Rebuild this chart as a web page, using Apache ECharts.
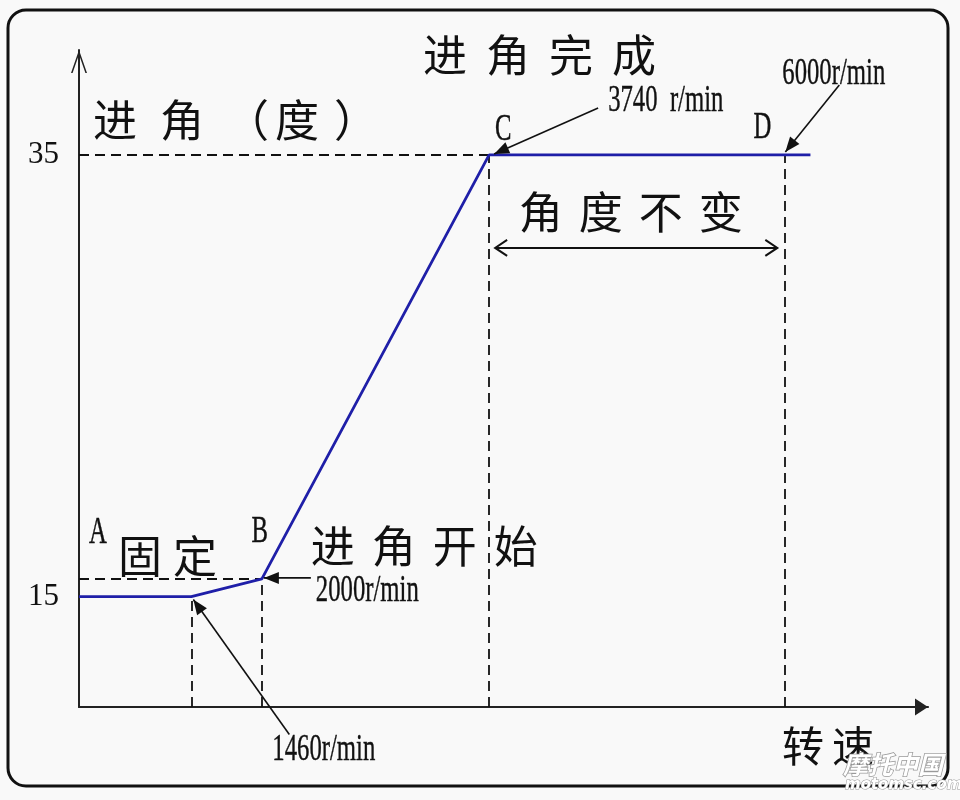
<!DOCTYPE html>
<html>
<head>
<meta charset="utf-8">
<script src="https://cdn.jsdelivr.net/npm/echarts@6/dist/echarts.min.js"></script>
<style>
  html, body { margin: 0; padding: 0; background: #f9f9f9; }
  #chart { width: 960px; height: 800px; }
</style>
</head>
<body>
<div id="chart"></div>
<script>
// 进角特性：转速 (r/min) -> 进角 (度)
var speedRpm = [600, 1460, 2000, 3740, 6000, 6200];
var advanceDeg = [15, 15, 15.8, 35, 35, 35];
var yTickLabels = [15, 35];
var yMin = 10;
var yMax = 39.75;

var cjk = '"Noto Sans CJK SC", sans-serif';
var serif = '"Liberation Serif", serif';
var ink = '#111';

// dashed guides from each key point down to the x axis / across to the y axis
var guides = [];
[1, 2, 3, 4].forEach(function (i) {
    guides.push([{ coord: [speedRpm[i], yMin] }, { coord: [speedRpm[i], advanceDeg[i]] }]);
});
[2, 3].forEach(function (i) {
    guides.push([{ coord: [speedRpm[0], advanceDeg[i]] }, { coord: [speedRpm[i], advanceDeg[i]] }]);
});

var option = {
    backgroundColor: '#f9f9f9',
    animation: false,
    grid: { left: 79, right: 32, top: 50, bottom: 93 },
    xAxis: {
        type: 'value',
        min: speedRpm[0],
        max: 7100,
        axisLine: {
            show: true,
            symbol: ['none', 'triangle'],
            symbolSize: [17, 13],
            symbolOffset: [0, -6.5],
            lineStyle: { color: '#222', width: 2.2 }
        },
        axisTick: { show: false },
        axisLabel: { show: false },
        splitLine: { show: false }
    },
    yAxis: {
        type: 'value',
        min: yMin,
        max: yMax,
        interval: 5,
        axisLine: {
            show: true,
            symbol: ['none', 'path://M0,0 L8,23 L6.4,23 L0,4.6 L-6.4,23 L-8,23 Z'],
            symbolSize: [16, 23],
            symbolOffset: [0, -11.5],
            lineStyle: { color: '#222', width: 2 }
        },
        axisTick: { show: false },
        splitLine: { show: false },
        axisLabel: {
            margin: 20,
            fontSize: 31,
            fontFamily: serif,
            color: ink,
            formatter: function (v) {
                return yTickLabels.indexOf(v) >= 0 ? String(v) : '';
            }
        }
    },
    series: [{
        type: 'line',
        data: speedRpm.map(function (x, i) { return [x, advanceDeg[i]]; }),
        symbol: 'none',
        z: 5,
        lineStyle: { color: '#1f1fa8', width: 2.8 },
        markLine: {
            silent: true,
            symbol: ['none', 'none'],
            label: { show: false },
            lineStyle: { color: ink, type: [10, 6], width: 1.8 },
            data: guides
        }
    }]
};

var chart = echarts.init(document.getElementById('chart'));
chart.setOption(option);

var P = speedRpm.map(function (x, i) {
    return chart.convertToPixel({ gridIndex: 0 }, [x, advanceDeg[i]]);
});

function latin(text, x, y, align) {
    return {
        type: 'text', x: x, y: y, scaleX: 0.65, z: 20,
        style: { text: text, fontSize: 38, fontFamily: serif, fill: ink, stroke: ink, lineWidth: 0.4, align: align || 'left', verticalAlign: 'middle' }
    };
}

function chars(list, xs, y, size) {
    return list.map(function (ch, i) {
        return {
            type: 'text', x: xs[i], y: y, z: 20,
            style: { text: ch, fontSize: size, fontFamily: cjk, fill: ink, align: 'left', verticalAlign: 'middle' }
        };
    });
}

function spaced(text, x, y, size, pitch) {
    var xs = text.split('').map(function (c, i) { return x + i * pitch; });
    return chars(text.split(''), xs, y, size);
}

function head(tx, ty, fx, fy, len, half) {
    var dx = tx - fx, dy = ty - fy, d = Math.sqrt(dx * dx + dy * dy);
    var ux = dx / d, uy = dy / d;
    var bx = tx - ux * len, by = ty - uy * len;
    return [[bx - uy * half, by + ux * half], [tx, ty], [bx + uy * half, by - ux * half]];
}

// line with a filled arrowhead at (x2, y2)
function arrow(x1, y1, x2, y2) {
    return [
        { type: 'line', z: 20, shape: { x1: x1, y1: y1, x2: x2, y2: y2 }, style: { stroke: ink, lineWidth: 1.6 } },
        { type: 'polygon', z: 20, shape: { points: head(x2, y2, x1, y1, 15, 6) }, style: { fill: ink } }
    ];
}

// line with open heads at both ends
function doubleArrow(x1, x2, y) {
    return [
        { type: 'line', z: 20, shape: { x1: x1, y1: y, x2: x2, y2: y }, style: { stroke: ink, lineWidth: 2 } },
        { type: 'polyline', z: 20, shape: { points: head(x1, y, x2, y, 12, 8) }, style: { stroke: ink, lineWidth: 2, fill: null } },
        { type: 'polyline', z: 20, shape: { points: head(x2, y, x1, y, 12, 8) }, style: { stroke: ink, lineWidth: 2, fill: null } }
    ];
}

var A = P[0], p1460 = P[1], B = P[2], C = P[3], D = P[4];
var midCD = (C[0] + D[0]) / 2;

var g = [];
g.push({ type: 'rect', z: 1, shape: { x: 8, y: 10, width: 940, height: 776, r: 18 }, style: { fill: 'none', stroke: ink, lineWidth: 3 } });

// headings
g = g.concat(spaced('进角完成', 423, 55, 44, 63));
g = g.concat(chars(['进', '角', '（', '度', '）'], [93, 160, 225, 275, 334], 120, 44));
g = g.concat(spaced('转速', 782, 746, 42, 50));

// point letters
g.push(latin('A', A[0] + 19, A[1] - 64, 'center'));
g.push(latin('B', B[0] - 2, B[1] - 47, 'center'));
g.push(latin('C', C[0] + 14, C[1] - 25, 'center'));
g.push(latin('D', D[0] - 22, D[1] - 27, 'center'));

// segment notes
g = g.concat(spaced('固定', 118, 556, 44, 55));
g = g.concat(spaced('进角开始', B[0] + 49, B[1] - 33, 44, 61));
g = g.concat(spaced('角度不变', midCD - 118, C[1] + 57, 44, 60));
g = g.concat(doubleArrow(C[0] + 6, D[0] - 7, C[1] + 93));

// speed call-outs
g.push(latin('1460r/min', p1460[0] + 81, p1460[1] + 153));
g = g.concat(arrow(p1460[0] + 98, p1460[1] + 138, p1460[0] + 2, p1460[1] + 3));
g.push(latin('2000r/min', B[0] + 54, B[1] + 12));
g = g.concat(arrow(B[0] + 49, B[1] - 1, B[0] + 2, B[1] - 1));
g.push(latin('3740  r/min', C[0] + 119, C[1] - 54));
g = g.concat(arrow(C[0] + 109, C[1] - 47, C[0] + 5, C[1] - 1));
g.push(latin('6000r/min', D[0] - 2, D[1] - 81));
g = g.concat(arrow(D[0] + 55, D[1] - 70, D[0] + 1, D[1] - 3));

// watermark
g.push({ type: 'text', x: 843, y: 764, z: 30, style: { text: '摩托中国', fontSize: 25, fontStyle: 'italic', fontWeight: 'bold', fontFamily: cjk, fill: '#ffffff', stroke: '#9a9a9a', lineWidth: 1.5, align: 'left', verticalAlign: 'middle' } });
g.push({ type: 'text', x: 845, y: 785, z: 30, style: { text: 'motomsc.com', fontSize: 15, fontStyle: 'italic', fontWeight: 'bold', fontFamily: '"DejaVu Sans", sans-serif', fill: '#ffffff', stroke: '#9a9a9a', lineWidth: 1, align: 'left', verticalAlign: 'middle' } });

chart.setOption({ graphic: g });
</script>
</body>
</html>
